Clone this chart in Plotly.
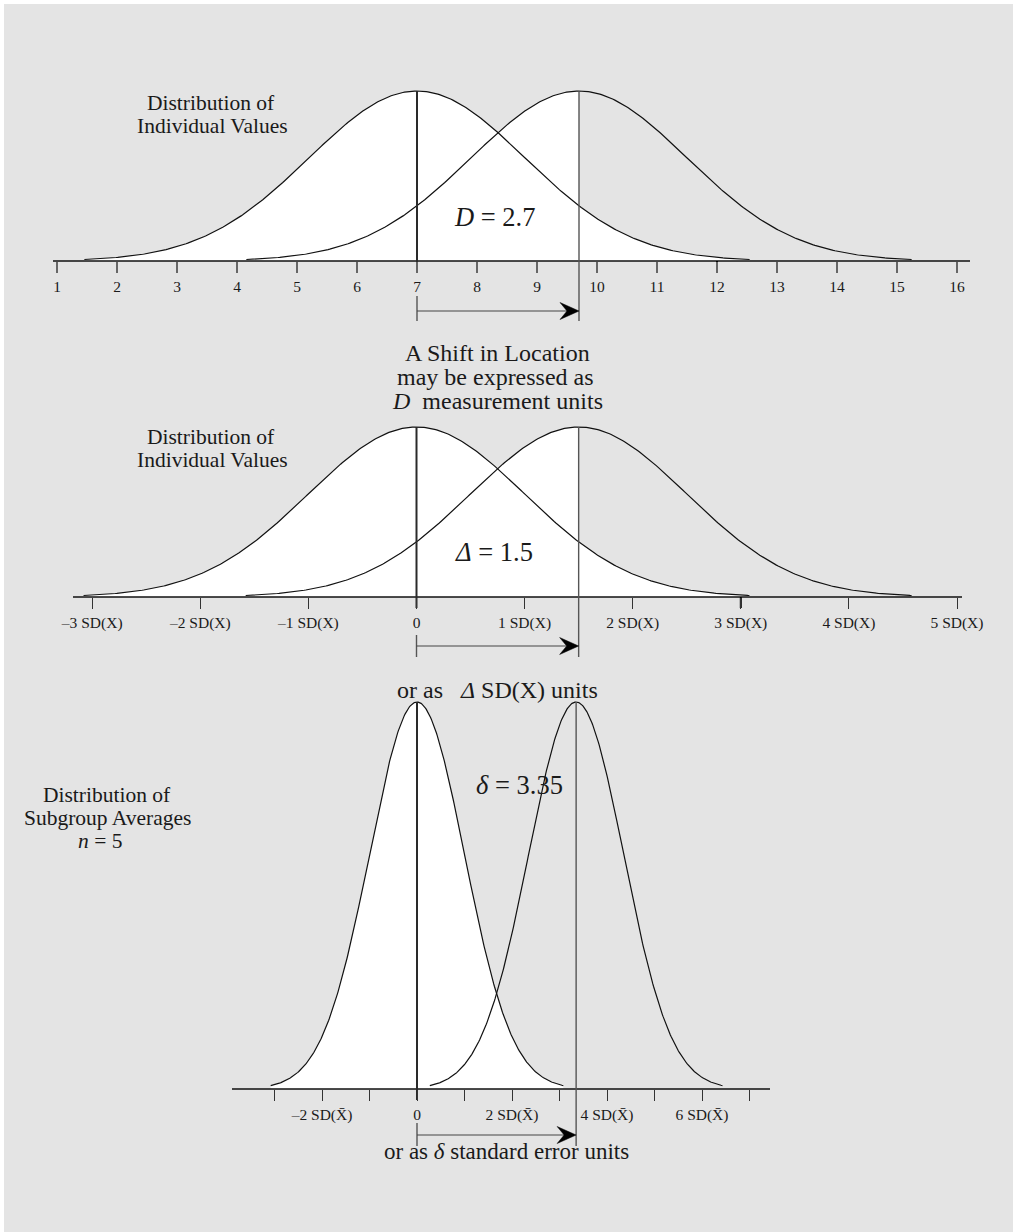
import numpy as np
import plotly.graph_objects as go

W, H = 1013, 1232
BG = '#e4e4e4'
FONT = 'Liberation Serif'
TXT = '#1a1a1a'

# ---------------- data ----------------
# Panel 1: measurement units
p1_ticks = list(range(1, 17))
p1_ticktext = [str(t) for t in p1_ticks]
p1_means = [7.0, 9.7]
p1_sd = 1.8

# Panel 2: SD(X) units
p2_ticks = [-3, -2, -1, 0, 1, 2, 3, 4, 5]
p2_ticktext = ['–3 SD(X)', '–2 SD(X)', '–1 SD(X)', '0', '1 SD(X)', '2 SD(X)',
               '3 SD(X)', '4 SD(X)', '5 SD(X)']
p2_means = [0.0, 1.5]
p2_sd = 1.0

# Panel 3: standard error units (subgroup averages, n = 5)
p3_ticks = [-3, -2, -1, 0, 1, 2, 3, 4, 5, 6, 7]
p3_ticktext = ['', '–2 SD(X̄)', '', '0', '', '2 SD(X̄)', '', '4 SD(X̄)', '',
               '6 SD(X̄)', '']
p3_means = [0.0, 3.35]
p3_sd = 1.0

TAIL = 3.08  # curves drawn to mean ± TAIL * sd

# darker tick marks seen in the original artwork
dark_ticks = {1: [12], 2: [3], 3: []}

# ---------------- layout geometry (pixels) ----------------
G = {
    1: dict(off=-3.0, ppu=60.0, base=261, peak=91, ax0=53, ax1=970,
            ay=311, bt=296, bb=321, tickcolor='#666', tickwidth=1.5),
    2: dict(off=416.5, ppu=108.1, base=597, peak=427, ax0=73, ax1=962,
            ay=646, bt=635, bb=657, tickcolor='#333', tickwidth=1.0),
    3: dict(off=417.0, ppu=47.5, base=1089, peak=702, ax0=232, ax1=770,
            ay=1135, bt=1123, bb=1146, tickcolor='#333', tickwidth=1.0),
}
SDS = {1: p1_sd, 2: p2_sd, 3: p3_sd}
PDF_PEAK = {k: 1.0 / (SDS[k] * np.sqrt(2 * np.pi)) for k in G}


def kscale(k):
    g = G[k]
    return (g['base'] - g['peak']) / PDF_PEAK[k]


def xv(k, px):
    g = G[k]
    return (px - g['off']) / g['ppu']


def yv(k, py):
    return (G[k]['base'] - py) / kscale(k)


def pdf(x, m, s):
    return np.exp(-0.5 * ((x - m) / s) ** 2) / (s * np.sqrt(2 * np.pi))


fig = go.Figure()

panels = {1: (p1_means, p1_ticks, p1_ticktext),
          2: (p2_means, p2_ticks, p2_ticktext),
          3: (p3_means, p3_ticks, p3_ticktext)}


def line(xa, ya, x, y, color, width):
    fig.add_trace(go.Scatter(x=x, y=y, mode='lines', line=dict(color=color, width=width),
                             xaxis=xa, yaxis=ya, showlegend=False, hoverinfo='skip'))


for k, (means, ticks, ticktext) in panels.items():
    s = SDS[k]
    xa = 'x' if k == 1 else f'x{k}'
    ya = 'y' if k == 1 else f'y{k}'
    m1, m2 = means
    g = G[k]

    # white fill
    if k in (1, 2):
        xs1 = np.linspace(m1 - TAIL * s, m2, 300)
        ys1 = np.maximum(pdf(xs1, m1, s), np.where(xs1 >= m2 - TAIL * s, pdf(xs1, m2, s), 0))
        xs2 = np.linspace(m2, m1 + TAIL * s, 200)
        ys2 = pdf(xs2, m1, s)
        fx = np.concatenate([xs1, [m2], xs2, [m1 + TAIL * s, m1 - TAIL * s]])
        fy = np.concatenate([ys1, [pdf(m2, m1, s)], ys2, [0, 0]])
    else:
        xs = np.linspace(m1 - TAIL * s, m1 + TAIL * s, 400)
        fx = np.concatenate([xs, [m1 + TAIL * s, m1 - TAIL * s]])
        fy = np.concatenate([pdf(xs, m1, s), [0, 0]])
    fig.add_trace(go.Scatter(x=fx, y=fy, fill='toself', fillcolor='white',
                             line=dict(width=0), mode='lines', hoverinfo='skip',
                             xaxis=xa, yaxis=ya, showlegend=False))

    # axis line
    line(xa, ya, [xv(k, g['ax0']), xv(k, g['ax1'])], [0, 0], '#111', 1.3)
    # darker ticks
    for t in dark_ticks[k]:
        line(xa, ya, [t, t], [0, yv(k, g['base'] + 11)], '#000', 2)

    # curves
    for m in means:
        xs = np.linspace(m - TAIL * s, m + TAIL * s, 400)
        line(xa, ya, xs, pdf(xs, m, s), '#111', 1.2)

    # mean lines
    line(xa, ya, [m1, m1], [yv(k, g['base'] + 11), pdf(m1, m1, s)], '#2a2a2a', 2)
    line(xa, ya, [m2, m2], [yv(k, g['bb']), pdf(m2, m2, s)], '#555', 1.4)
    # left bar of arrow
    line(xa, ya, [m1, m1], [yv(k, g['bt']), yv(k, g['bb'])], '#555', 1.4)
    # arrow shaft
    tipx = m2
    notch = tipx - 12.0 / g['ppu']
    line(xa, ya, [m1, notch], [yv(k, g['ay'])] * 2, '#444', 1.2)
    # arrow head
    back = tipx - 19.0 / g['ppu']
    hx = [tipx, back, notch, back, tipx]
    hy = [yv(k, g['ay']), yv(k, g['ay'] - 8.5), yv(k, g['ay']), yv(k, g['ay'] + 8.5), yv(k, g['ay'])]
    fig.add_trace(go.Scatter(x=hx, y=hy, fill='toself', fillcolor='#000', mode='lines',
                             line=dict(color='#000', width=0.5),
                             xaxis=xa, yaxis=ya, showlegend=False, hoverinfo='skip'))

    xkey = 'xaxis' if k == 1 else f'xaxis{k}'
    ykey = 'yaxis' if k == 1 else f'yaxis{k}'
    fig.update_layout(**{
        xkey: dict(domain=[0, 1], range=[xv(k, 0), xv(k, W)], anchor='free',
                   position=1 - g['base'] / H, showline=False, showgrid=False,
                   zeroline=False, ticks='outside', ticklen=11,
                   tickwidth=g['tickwidth'], tickcolor=g['tickcolor'],
                   tickvals=ticks, ticktext=ticktext,
                   tickfont=dict(family=FONT, size=15.5, color=TXT), fixedrange=True),
        ykey: dict(domain=[0, 1], range=[yv(k, H), yv(k, 0)], visible=False,
                   anchor=('x' if k == 1 else f'x{k}'), fixedrange=True),
    })


def ann(text, px, py, size):
    fig.add_annotation(x=px / W, y=1 - py / H, xref='paper', yref='paper',
                       text=text, showarrow=False, xanchor='center', yanchor='middle',
                       font=dict(family=FONT, size=size, color=TXT))


LBL, MAIN, EQ = 21.5, 24, 26.5

ann('Distribution of', 211, 103, LBL)
ann('Individual Values', 212, 126, LBL)
ann('<i>D</i> = 2.7', 494, 217, EQ)
ann('A Shift in Location', 497, 353, MAIN)
ann('may be expressed as', 495, 377, MAIN)
ann('<i>D</i>  measurement units', 497, 401, MAIN)

ann('Distribution of', 211, 437, LBL)
ann('Individual Values', 212, 460, LBL)
ann('<i>Δ</i> = 1.5', 494, 552, EQ)
ann('or as   <i>Δ</i> SD(X) units', 497, 690, MAIN)

ann('Distribution of', 107, 795, LBL)
ann('Subgroup Averages', 107, 818, LBL)
ann('<i>n</i> = 5', 100, 841, LBL)
ann('<i>δ</i> = 3.35', 519, 785, EQ)
ann('or as <i>δ</i> standard error units', 506, 1151, 23)

fig.update_layout(
    width=W, height=H, margin=dict(l=0, r=0, t=0, b=0),
    paper_bgcolor=BG, plot_bgcolor='rgba(0,0,0,0)', showlegend=False,
    shapes=[
        dict(type='rect', xref='paper', yref='paper', x0=0, x1=4 / W, y0=0, y1=1,
             fillcolor='white', line=dict(width=0), layer='below'),
        dict(type='rect', xref='paper', yref='paper', x0=0, x1=1, y0=1 - 4 / H, y1=1,
             fillcolor='white', line=dict(width=0), layer='below'),
    ],
)

fig.write_html('out.html')
